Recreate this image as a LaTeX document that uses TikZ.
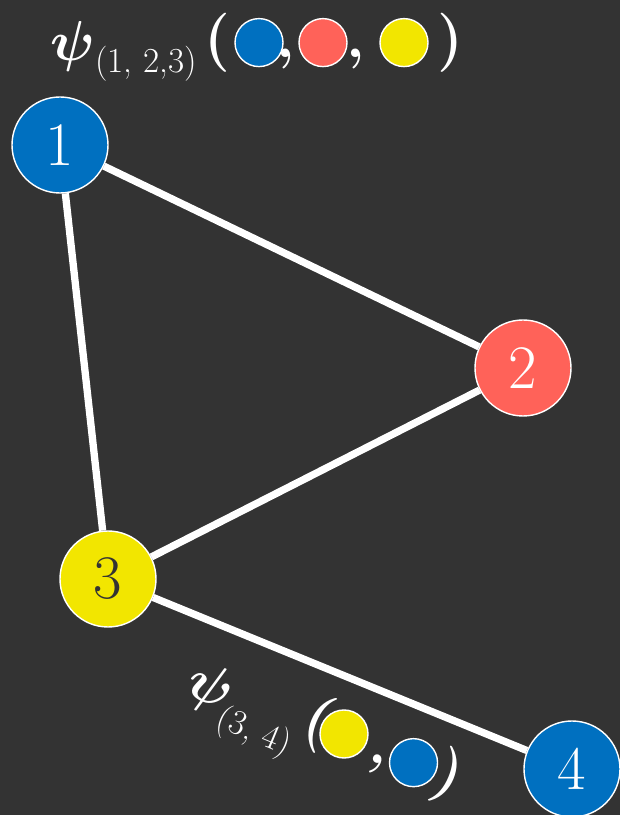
\RequirePackage{fix-cm}
\documentclass[tikz,border=0pt]{standalone}
\usepackage{amsmath}
\usepackage{amssymb}
\usepackage{tikz}
\usepackage{tkz-euclide}

\definecolor{slate}{HTML}{333333}
\definecolor{vblue}{HTML}{0070C0}
\definecolor{vred}{HTML}{FF6259}
\definecolor{vyellow}{HTML}{F2E600}

\tikzset{
  vertex/.style={circle, draw=white, line width=1pt, minimum size=2.4cm,
    inner sep=0pt, text=white, font=\fontsize{44}{48}\selectfont},
  dot/.style={circle, draw=white, line width=1pt, minimum size=1.2cm, inner sep=0pt},
  edge/.style={white, line width=5.2pt},
  psi/.style={inner sep=0pt, text=white, font=\fontsize{40}{42}\selectfont},
  sub/.style={inner sep=0pt, text=white, font=\fontsize{25}{27}\selectfont},
  brace/.style={inner sep=0pt, anchor=base, text=white, font=\fontsize{42}{44}\selectfont\bfseries},
}

\begin{document}
\begin{tikzpicture}
                \fill[slate] (0,0) rectangle (15.5,20.375);
                \useasboundingbox (0,0) rectangle (15.5,20.375);

                \tkzDefPoint(1.5,16.75){P1}
                \tkzDefPoint(13.075,11.175){P2}
                \tkzDefPoint(2.7,5.9){P3}
                \tkzDefPoint(14.3,1.15){P4}

                \node[vertex, fill=vblue] (c1) at (P1) {1};
                \node[vertex, fill=vred] (c2) at (P2) {2};
                \node[vertex, fill=vyellow, text=slate] (c3) at (P3) {3};
                \node[vertex, fill=vblue] (c4) at (P4) {4};

                \draw[edge] (c1) -- (c2);
                \draw[edge] (c1) -- (c3);
                \draw[edge] (c2) -- (c3);
                \draw[edge] (c3) -- (c4);

                % potential on the triangle 1,2,3
                \node[psi] (psiA) at (1.81,19.21) {$\boldsymbol{\psi}$};
                \node[sub] (subA) at (3.65,18.78) {(1, 2,3)};
                \node[brace] (openA) at (5.44,18.94) {(};
                \node[dot, fill=vblue] (dA1) at (6.475,19.31) {};
                \node[brace] (commaA1) at (7.15,18.94) {,};
                \node[dot, fill=vred] (dA2) at (8.075,19.31) {};
                \node[brace] (commaA2) at (8.9,18.94) {,};
                \node[dot, fill=vyellow] (dA3) at (10.1,19.31) {};
                \node[brace] (closeA) at (11.26,18.94) {)};

                % potential on the edge 3,4
                \begin{scope}[shift={(8.6,2.025)}, rotate=-22.4, transform shape]
                \node[psi] (psiB) at (-3.54,-0.25) {$\boldsymbol{\psi}$};
                \node[sub] (subB) at (-2.1,-0.83) {(3, 4)};
                \node[brace] (openB) at (-0.71,-0.36) {(};
                \node[dot, fill=vyellow] (dB1) at (0,0) {};
                \node[brace] (commaB) at (1.01,-0.36) {,};
                \node[dot, fill=vblue] (dB2) at (1.88,0) {};
                \node[brace] (closeB) at (2.8,-0.36) {)};
                \end{scope}
            \end{tikzpicture}
\end{document}
